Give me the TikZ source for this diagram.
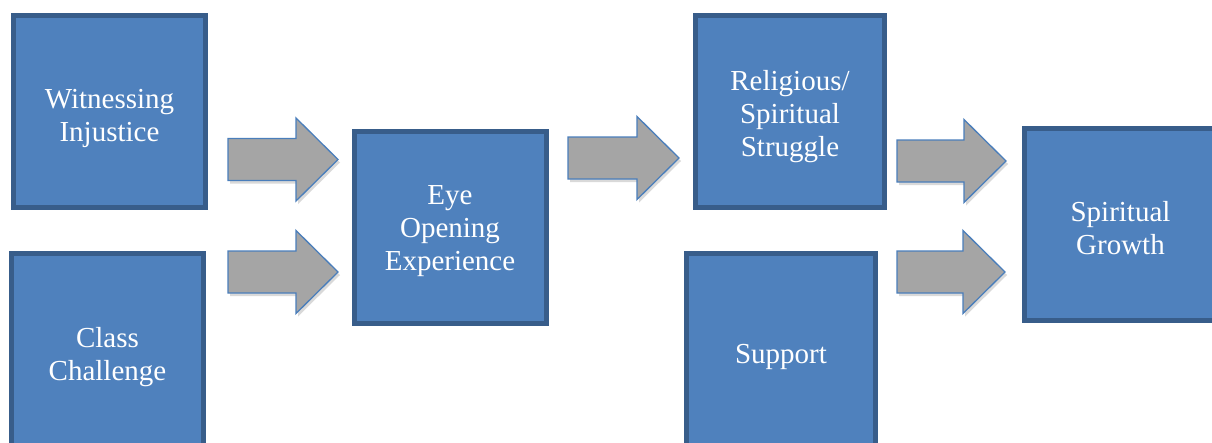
\documentclass[tikz,border=0pt]{standalone}
\usepackage{fontspec}
\setmainfont{Liberation Serif}
\definecolor{boxfill}{HTML}{4F81BD}
\definecolor{boxline}{HTML}{385D8A}
\definecolor{arrfill}{HTML}{A5A5A5}
\definecolor{arrline}{HTML}{4A7EBB}
\tikzset{
  stagebox/.style={draw=boxline, line width=5pt, fill=boxfill, minimum width=192pt, minimum height=192pt,
    inner sep=0pt},
  stagetext/.style={text=white, align=center, inner sep=0pt, font=\fontsize{29}{33}\selectfont},
  pics/blockarrow/.style={code={
    \fill[black, opacity=0.15] (2,24) -- ++(#1-42,0) -- ++(0,20.5) -- ++(42,-41.5) -- ++(-42,-41.5) -- ++(0,20.5) -- ++(-#1+42,0) -- cycle;
    \draw[draw=arrline, line width=1.3pt, fill=arrfill, line join=miter]
      (0,21) -- ++(#1-42,0) -- ++(0,20.5) -- ++(42,-41.5) -- ++(-42,-41.5) -- ++(0,20.5) -- ++(-#1+42,0) -- cycle;
  }}
}
\begin{document}
\begin{tikzpicture}[x=1pt, y=-1pt]
\useasboundingbox (0,0) rectangle (1212,442);
\clip (0,0) rectangle (1212,442);
\node[stagebox] (wit) at (109.5,111.5) {};
\node[stagebox] (cls) at (107.5,349.5) {};
\node[stagebox] (eye) at (450,227.5) {};
\node[stagebox, minimum width=189pt] (rel) at (790,111.5) {};
\node[stagebox, minimum width=189pt] (sup) at (781,349.5) {};
\node[stagebox] (gro) at (1120.5,224.5) {};
\node[stagetext] (witt) at ([yshift=-7pt]wit.center) {Witnessing\\Injustice};
\node[stagetext] (clst) at ([yshift=-8pt]cls.center) {Class\\Challenge};
\node[stagetext] (eyet) at ([yshift=-4pt]eye.center) {Eye\\Opening\\Experience};
\node[stagetext] (relt) at ([yshift=-5pt]rel.center) {Religious/\\Spiritual\\Struggle};
\node[stagetext] (supt) at ([yshift=-7pt]sup.center) {Support};
\node[stagetext] (grot) at ([yshift=-4pt]gro.center) {Spiritual\\Growth};
\pic (a1) at (228,159.5) {blockarrow=110};
\pic (a2) at (228,272) {blockarrow=110};
\pic (a3) at (568,158) {blockarrow=111};
\pic (a4) at (897,161) {blockarrow=109};
\pic (a5) at (897,272) {blockarrow=108};
\end{tikzpicture}
\end{document}
